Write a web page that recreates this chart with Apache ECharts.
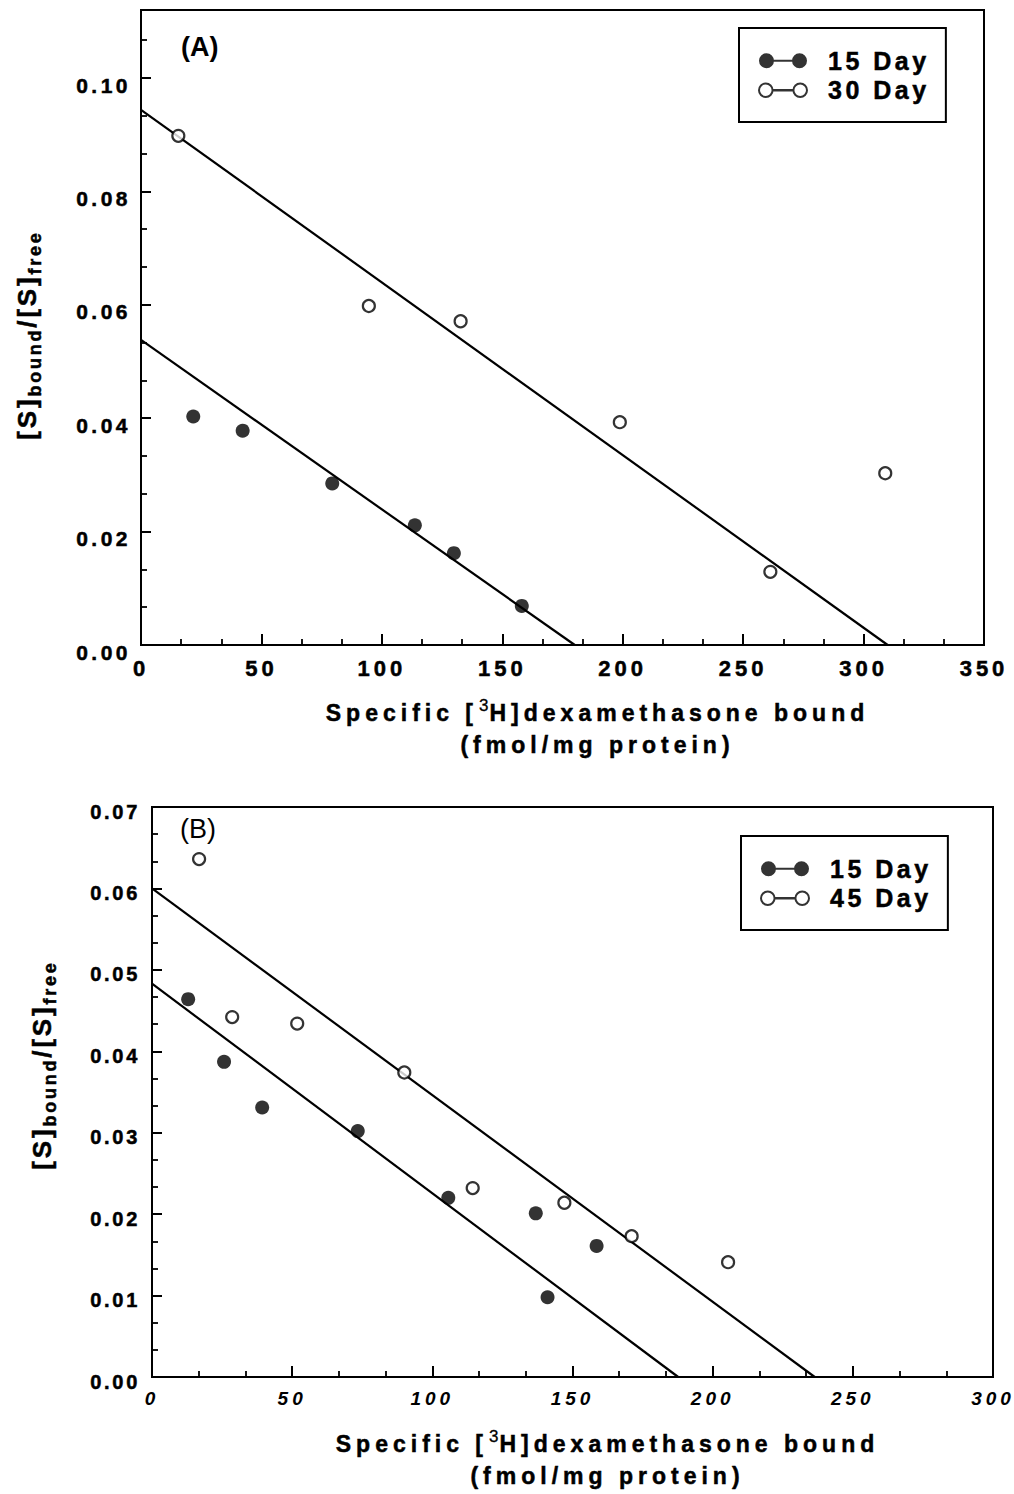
<!DOCTYPE html>
<html><head><meta charset="utf-8">
<script src="https://cdn.jsdelivr.net/npm/echarts@6/dist/echarts.min.js"></script>
<style>
html,body{margin:0;padding:0;background:#fff;}
#c{width:1014px;height:1494px;}
#c text[style*="21px"]{letter-spacing:3.5px}
#c text[style*="22px"]{letter-spacing:4px}
#c text[style*="19px"]{letter-spacing:4px}
#c text[style*="20px"]{letter-spacing:2.7px}
#c text[style*="23px"]{letter-spacing:5px}
#c text[style*="26px"], #c text[style*="18px"]{letter-spacing:2.8px}
#c text[style*="25px"]{letter-spacing:3.5px}
</style></head><body><div id="c"></div><script>
// ---- Panel A data ----
const a15x = [21.7, 42.2, 79.4, 113.7, 129.9, 158.1];
const a15y = [0.0403, 0.0378, 0.0285, 0.0211, 0.0162, 0.0069];
const a30x = [15.5, 94.6, 132.7, 198.8, 261.3, 309.0];
const a30y = [0.0898, 0.0598, 0.0571, 0.0393, 0.0129, 0.0303];
const fitA15x = [0, 180.1], fitA15y = [0.0538, 0];
const fitA30x = [0, 310.0], fitA30y = [0.0944, 0];
// ---- Panel B data ----
const b15x = [12.9, 25.7, 39.3, 73.4, 105.7, 136.9, 158.6, 141.1];
const b15y = [0.0464, 0.0387, 0.0331, 0.0302, 0.0220, 0.0201, 0.0161, 0.0098];
const b45x = [16.8, 28.6, 51.8, 90.0, 114.4, 147.1, 171.1, 205.5];
const b45y = [0.0636, 0.0442, 0.0434, 0.0374, 0.0232, 0.0214, 0.0173, 0.0141];
const fitB15x = [0, 187.7], fitB15y = [0.0483, 0];
const fitB45x = [0, 236.4], fitB45y = [0.0600, 0];
// ---- labels ----
const legendA = ['15 Day', '30 Day'];
const legendB = ['15 Day', '45 Day'];
const xTitleParts = ['Specific [', '3', 'H]dexamethasone bound', '(fmol/mg protein)'];
const yTitleParts = ['[S]', 'bound', '/[S]', 'free'];
const panelLabels = ['(A)', '(B)'];

const F = 'Liberation Sans';
const K = '#000';
const zip = (xs, ys) => xs.map((x, i) => [x, ys[i]]);

const mctx = document.createElement('canvas').getContext('2d');
function tw(s, size, ls, weight) {
  mctx.font = (weight || 'bold') + ' ' + size + 'px "' + F + '"';
  return mctx.measureText(s).width + s.length * ls;
}
const TB = {textBorderColor: K, textBorderWidth: 0.5};

function yRich() {
  const m = {fontFamily: F, fontSize: 26, fontWeight: 'bold', color: K, lineHeight: 26, verticalAlign: 'top', ...TB};
  const s = {fontFamily: F, fontSize: 18, fontWeight: 'bold', color: K, lineHeight: 18, padding: [15, 0, 0, 0], ...TB};
  return {
    m1: {...m, width: tw(yTitleParts[0], 26, 2.8)},
    s1: {...s, width: tw(yTitleParts[1], 18, 2.8)},
    m2: {...m, width: tw(yTitleParts[2], 26, 2.8)},
    s2: {...s, width: tw(yTitleParts[3], 18, 2.8)}
  };
}
const yName = '{m1|' + yTitleParts[0] + '}{s1|' + yTitleParts[1] + '}{m2|' + yTitleParts[2] + '}{s2|' + yTitleParts[3] + '}';

function xRich() {
  const t = {fontFamily: F, fontSize: 23, fontWeight: 'bold', color: K, lineHeight: 32, ...TB};
  return {
    a: {...t, width: tw(xTitleParts[0], 23, 5)},
    u: {fontFamily: F, fontSize: 17, fontWeight: 'normal', color: K, lineHeight: 17, verticalAlign: 'top',
        textBorderColor: K, textBorderWidth: 0.3,
        width: tw(xTitleParts[1], 17, 0, 'normal') + 2},
    b: {...t, width: tw(xTitleParts[2], 23, 5)},
    c: {...t, width: tw(xTitleParts[3], 23, 5)}
  };
}
const xName = '{a|' + xTitleParts[0] + '}{u|' + xTitleParts[1] + '}{b|' + xTitleParts[2] + '}\n{c|' + xTitleParts[3] + '}';

const ICON_F = 'path://M0,7.5A7.5,7.5,0,1,1,15,7.5A7.5,7.5,0,1,1,0,7.5Z M14,6.5L34,6.5L34,8.5L14,8.5Z M33,7.5A7.5,7.5,0,1,1,48,7.5A7.5,7.5,0,1,1,33,7.5Z';
const ICON_O = 'path://M1,7.5A6.5,6.5,0,1,1,14,7.5A6.5,6.5,0,1,1,1,7.5Z M14,7.2L34,7.2L34,7.8L14,7.8Z M34,7.5A6.5,6.5,0,1,1,47,7.5A6.5,6.5,0,1,1,34,7.5Z';

function xAxisDef(gi, max, labelStyle, gap) {
  return {
    gridIndex: gi, type: 'value', min: 0, max: max, interval: 50,
    axisLine: {show: true, lineStyle: {color: K, width: 2}},
    axisTick: {show: true, inside: true, length: 11, lineStyle: {color: K, width: 2}},
    minorTick: {show: true, splitNumber: 3, length: 6, lineStyle: {color: K, width: 1.8}},
    splitLine: {show: false},
    axisLabel: Object.assign({color: K, fontFamily: F, margin: 12}, labelStyle),
    name: xName, nameLocation: 'middle', nameGap: gap, nameMoveOverlap: false,
    nameTextStyle: {color: K, fontFamily: F, fontSize: 23, fontWeight: 'bold', padding: [0, 0, 0, 70], rich: xRich()}
  };
}
function yAxisDef(gi, max, interval, size, lh, margin, gap, namePad) {
  return {
    gridIndex: gi, type: 'value', min: 0, max: max, interval: interval,
    axisLine: {show: true, lineStyle: {color: K, width: 2}},
    axisTick: {show: true, inside: true, length: 10, lineStyle: {color: K, width: 2}},
    minorTick: {show: true, splitNumber: 3, length: 6, lineStyle: {color: K, width: 1.8}},
    splitLine: {show: false},
    axisLabel: {
      color: K, fontFamily: F, fontSize: size, fontWeight: 'bold', margin: margin,
      verticalAlign: 'top', lineHeight: lh, ...TB,
      formatter: v => (Math.abs(v / interval - Math.round(v / interval)) < 1e-6 ? v.toFixed(2) : '')
    },
    name: yName, nameLocation: 'middle', nameRotate: 90, nameGap: gap, nameMoveOverlap: false,
    nameTextStyle: {color: K, fontFamily: F, fontSize: 26, fontWeight: 'bold', padding: namePad, rich: yRich()}
  };
}
function legendDef(left, top, names) {
  return {
    left: left, top: top, orient: 'vertical', selectedMode: false,
    padding: [20, 37, 19, 19], itemGap: 4, itemWidth: 48, itemHeight: 15,
    borderColor: K, borderWidth: 2, backgroundColor: '#fff',
    textStyle: {fontFamily: F, fontSize: 25, fontWeight: 'bold', color: K, padding: [0, 0, 0, 16], ...TB},
    data: [
      {name: names[0], icon: ICON_F, itemStyle: {color: K, borderWidth: 0}},
      {name: names[1], icon: ICON_O, itemStyle: {color: '#fff', borderColor: K, borderWidth: 2}}
    ]
  };
}
function fit(name, xi, xs, ys) {
  return {name: name, type: 'line', xAxisIndex: xi, yAxisIndex: xi, data: zip(xs, ys), symbol: 'none',
    silent: true, lineStyle: {color: K, width: 2.2}, z: 3};
}
function pts(name, xi, xs, ys, open) {
  return {name: name, type: 'scatter', xAxisIndex: xi, yAxisIndex: xi, data: zip(xs, ys), silent: true, z: 5,
    symbol: 'circle', symbolSize: open ? 12 : 14,
    itemStyle: open ? {color: '#fff', borderColor: K, borderWidth: 2.2} : {color: K, borderWidth: 0}};
}

const chart = echarts.init(document.getElementById('c'), null, {renderer: 'svg'});
chart.setOption({
  animation: false,
  backgroundColor: '#fff',
  title: [
    {text: panelLabels[0], left: 181, top: 33, padding: 0, textStyle: {fontFamily: F, fontSize: 27, fontWeight: 'bold', color: K}},
    {text: panelLabels[1], left: 180, top: 815, padding: 0, textStyle: {fontFamily: F, fontSize: 27, fontWeight: 'normal', color: K}}
  ],
  grid: [
    {left: 141, top: 10, width: 843, height: 635, show: true, borderColor: K, borderWidth: 2, containLabel: false},
    {left: 152, top: 807, width: 841, height: 570, show: true, borderColor: K, borderWidth: 2, containLabel: false}
  ],
  xAxis: [
    xAxisDef(0, 350, {fontSize: 22, fontWeight: 'bold', ...TB}, 52),
    xAxisDef(1, 300, {fontSize: 19, fontWeight: 'bold', fontStyle: 'italic'}, 51)
  ],
  yAxis: [
    yAxisDef(0, 0.112, 0.02, 21, 14, 10, 101, [0, 15, 0, 0]),
    yAxisDef(1, 0.07, 0.01, 20, 9, 12, 97, [0, 0, 0, 54])
  ],
  legend: [legendDef(739, 28, legendA), legendDef(741, 836, legendB)],
  series: [
    fit('fitA15', 0, fitA15x, fitA15y), fit('fitA30', 0, fitA30x, fitA30y),
    pts(legendA[0], 0, a15x, a15y, false), pts(legendA[1], 0, a30x, a30y, true),
    fit('fitB15', 1, fitB15x, fitB15y), fit('fitB45', 1, fitB45x, fitB45y),
    pts(legendB[0], 1, b15x, b15y, false), pts(legendB[1], 1, b45x, b45y, true)
  ]
});
</script></body></html>
